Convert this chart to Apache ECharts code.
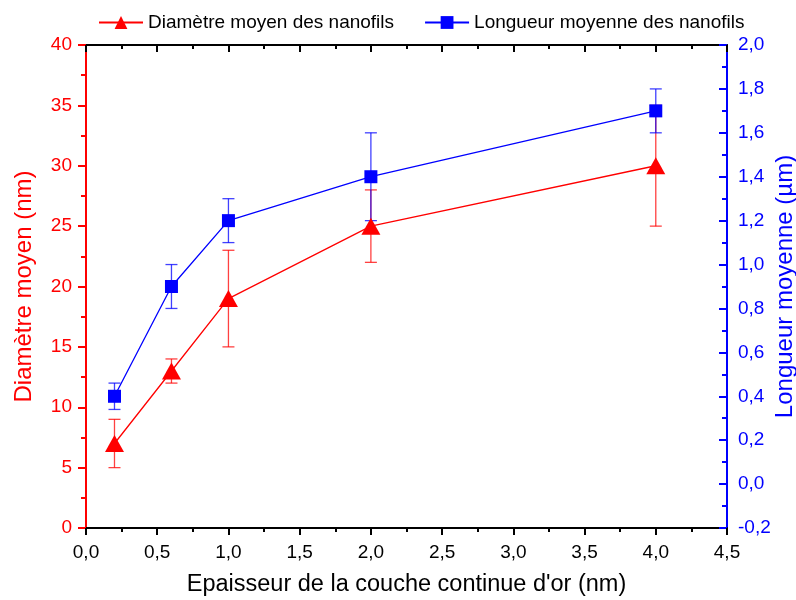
<!DOCTYPE html>
<html>
<head>
<meta charset="utf-8">
<script src="https://cdn.jsdelivr.net/npm/echarts@6/dist/echarts.min.js"></script>
<style>html,body{margin:0;padding:0;background:#fff}#c{width:796px;height:600px}</style>
</head>
<body>
<div id="c"></div>
<script>
const xVals = [0.2, 0.6, 1.0, 2.0, 4.0];
const diam = [7, 13, 19, 25, 30];
const diamLow = [5, 12, 15, 22, 25];
const diamHigh = [9, 14, 23, 28, 35];
const len = [0.4, 0.9, 1.2, 1.4, 1.7];
const lenLow = [0.34, 0.8, 1.1, 1.2, 1.6];
const lenHigh = [0.46, 1.0, 1.3, 1.6, 1.8];
const seriesNames = ['Diamètre moyen des nanofils', 'Longueur moyenne des nanofils'];
const xName = "Epaisseur de la couche continue d'or (nm)";
const yLeftName = 'Diamètre moyen (nm)';
const yRightName = 'Longueur moyenne (µm)';

const FONT = "'Liberation Sans', Arial, sans-serif";
const RED = '#ff0000', BLUE = '#0000ff';
const comma = v => Number(v).toFixed(1).replace('.', ',');

function errBar(color) {
  return function (params, api) {
    const x = api.value(0);
    const lo = api.coord([x, api.value(1)]);
    const hi = api.coord([x, api.value(2)]);
    const w = 6;
    const style = { stroke: color, lineWidth: 1.3, opacity: 0.75 };
    return {
      type: 'group',
      children: [
        { type: 'line', shape: { x1: lo[0], y1: lo[1], x2: hi[0], y2: hi[1] }, style },
        { type: 'line', shape: { x1: lo[0] - w, y1: lo[1], x2: lo[0] + w, y2: lo[1] }, style },
        { type: 'line', shape: { x1: hi[0] - w, y1: hi[1], x2: hi[0] + w, y2: hi[1] }, style }
      ]
    };
  };
}

const chart = echarts.init(document.getElementById('c'), null, { renderer: 'canvas' });
chart.setOption({
  animation: false,
  backgroundColor: '#fff',
  textStyle: { fontFamily: FONT },
  legend: {
    data: seriesNames,
    left: 93, top: 8, width: 700, orient: 'horizontal',
    itemWidth: 44, itemHeight: 16, itemGap: 30,
    textStyle: { fontFamily: FONT, fontSize: 19, color: '#000' }
  },
  grid: { left: 86, right: 69, top: 45, bottom: 72, containLabel: false, outerBoundsMode: 'none' },
  xAxis: [{
    type: 'value', min: 0, max: 4.5, interval: 0.5,
    name: xName, nameLocation: 'middle', nameGap: 45, nameMoveOverlap: false,
    nameTextStyle: { fontFamily: FONT, fontSize: 23.5, color: '#000' },
    axisLine: { onZero: false, lineStyle: { color: '#000', width: 2 } },
    axisTick: { lineStyle: { color: '#000', width: 2 }, length: 7 },
    minorTick: { show: true, splitNumber: 2, length: 4, lineStyle: { color: '#000', width: 2 } },
    axisLabel: { formatter: comma, fontFamily: FONT, fontSize: 19, color: '#000', margin: 15 },
    splitLine: { show: false }
  }, {
    type: 'value', min: 0, max: 4.5, interval: 0.5, position: 'top',
    axisLine: { onZero: false, lineStyle: { color: '#000', width: 2 } },
    axisTick: { inside: true, lineStyle: { color: '#000', width: 2 }, length: 7 },
    minorTick: { show: true, splitNumber: 2, length: 4, lineStyle: { color: '#000', width: 2 } },
    axisLabel: { show: false },
    splitLine: { show: false }
  }],
  yAxis: [{
    type: 'value', min: 0, max: 40, interval: 5, position: 'left',
    name: yLeftName, nameLocation: 'middle', nameGap: 50, nameRotate: 90, nameMoveOverlap: false,
    nameTextStyle: { fontFamily: FONT, fontSize: 24, color: RED },
    axisLine: { onZero: false, lineStyle: { color: RED, width: 2 } },
    axisTick: { lineStyle: { color: RED, width: 2 }, length: 8 },
    minorTick: { show: true, splitNumber: 2, length: 5, lineStyle: { color: RED, width: 2 } },
    axisLabel: { fontFamily: FONT, fontSize: 19, color: RED, margin: 14 },
    splitLine: { show: false }
  }, {
    type: 'value', min: -0.2, max: 2.0, interval: 0.2, position: 'right',
    name: yRightName, nameLocation: 'middle', nameGap: 46, nameRotate: 90, nameMoveOverlap: false,
    nameTextStyle: { fontFamily: FONT, fontSize: 24, color: BLUE },
    axisLine: { onZero: false, lineStyle: { color: BLUE, width: 2 } },
    axisTick: { inside: true, lineStyle: { color: BLUE, width: 2 }, length: 8 },
    minorTick: { show: true, splitNumber: 2, length: 5, lineStyle: { color: BLUE, width: 2 } },
    axisLabel: { formatter: comma, fontFamily: FONT, fontSize: 19, color: BLUE, margin: 11 },
    splitLine: { show: false }
  }],
  series: [{
    type: 'custom', name: 'errDiam', xAxisIndex: 0, yAxisIndex: 0, z: 1,
    renderItem: errBar(RED),
    encode: { x: 0, y: [1, 2] },
    data: xVals.map((x, i) => [x, diamLow[i], diamHigh[i]])
  }, {
    type: 'custom', name: 'errLen', xAxisIndex: 0, yAxisIndex: 1, z: 1,
    renderItem: errBar(BLUE),
    encode: { x: 0, y: [1, 2] },
    data: xVals.map((x, i) => [x, lenLow[i], lenHigh[i]])
  }, {
    type: 'line', name: seriesNames[0], xAxisIndex: 0, yAxisIndex: 0, z: 3,
    data: xVals.map((x, i) => [x, diam[i]]),
    symbol: 'triangle', symbolSize: [19, 17],
    lineStyle: { color: RED, width: 1.3 },
    itemStyle: { color: RED },
    showAllSymbol: true
  }, {
    type: 'line', name: seriesNames[1], xAxisIndex: 0, yAxisIndex: 1, z: 3,
    data: xVals.map((x, i) => [x, len[i]]),
    symbol: 'rect', symbolSize: 13,
    lineStyle: { color: BLUE, width: 1.3 },
    itemStyle: { color: BLUE },
    showAllSymbol: true
  }]
});
</script>
</body>
</html>
